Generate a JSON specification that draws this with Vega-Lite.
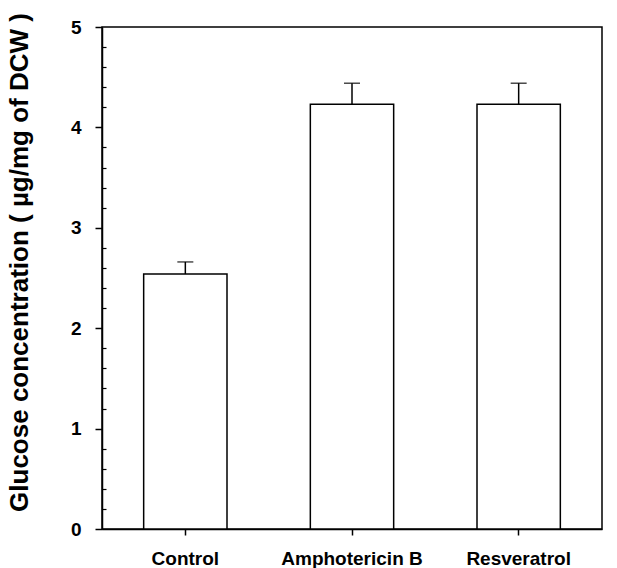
{
  "$schema": "https://vega.github.io/schema/vega-lite/v6.json",
  "width": 500,
  "height": 502,
  "autosize": {"type": "none"},
  "padding": {"left": 102, "top": 27, "right": 15, "bottom": 39},
  "background": "white",
  "config": {
    "view": {"stroke": "black", "strokeWidth": 1.5},
    "font": "Liberation Sans"
  },
  "data": {
    "values": [
      {"treatment": "Control", "glucose": 2.54, "upper": 2.66},
      {"treatment": "Amphotericin B", "glucose": 4.23, "upper": 4.44},
      {"treatment": "Resveratrol", "glucose": 4.23, "upper": 4.44}
    ]
  },
  "encoding": {
    "x": {
      "field": "treatment",
      "type": "nominal",
      "sort": null,
      "scale": {"paddingInner": 0.5, "paddingOuter": 0.25},
      "axis": {
        "title": null,
        "labelAngle": 0,
        "labelFont": "Liberation Sans",
        "labelFontWeight": "bold",
        "labelFontSize": 19,
        "labelColor": "black",
        "labelPadding": 14,
        "tickColor": "black",
        "tickSize": 6,
        "tickWidth": 1.5,
        "domainColor": "black",
        "domainWidth": 1.5,
        "grid": false
      }
    }
  },
  "layer": [
    {
      "mark": {"type": "bar", "fill": "white", "stroke": "black", "strokeWidth": 1.5},
      "encoding": {
        "y": {
          "field": "glucose",
          "type": "quantitative",
          "scale": {"domain": [0, 5], "nice": false},
          "axis": {
            "orient": "left",
            "title": "Glucose concentration ( µg/mg of DCW )",
            "titleFont": "Liberation Sans",
            "titleFontSize": 26,
            "titleFontWeight": "bold",
            "titleColor": "black",
            "titleX": -70,
            "titleY": 235,
            "titleAngle": -90,
            "titleBaseline": "bottom",
            "titleAlign": "center",
            "values": [0, 1, 2, 3, 4, 5],
            "format": "d",
            "labelFont": "Liberation Sans",
            "labelFontWeight": "bold",
            "labelFontSize": 19,
            "labelColor": "black",
            "labelPadding": 14,
            "tickColor": "black",
            "tickSize": 7,
            "tickWidth": 1.5,
            "domainColor": "black",
            "domainWidth": 1.5,
            "grid": false
          }
        }
      }
    },
    {
      "mark": {"type": "rule", "stroke": "black", "strokeWidth": 1.5},
      "encoding": {
        "y": {"field": "glucose", "type": "quantitative", "axis": null},
        "y2": {"field": "upper"}
      }
    },
    {
      "mark": {"type": "tick", "color": "black", "thickness": 1.5, "size": 16},
      "encoding": {
        "y": {
          "field": "upper",
          "type": "quantitative",
          "axis": {
            "orient": "left",
            "title": null,
            "values": [0.2, 0.4, 0.6, 0.8, 1.2, 1.4, 1.6, 1.8, 2.2, 2.4, 2.6, 2.8, 3.2, 3.4, 3.6, 3.8, 4.2, 4.4, 4.6, 4.8],
            "labels": false,
            "domain": false,
            "tickSize": -4,
            "tickColor": "black",
            "tickWidth": 1.2,
            "grid": false
          }
        }
      }
    }
  ],
  "resolve": {"axis": {"y": "independent"}}
}
